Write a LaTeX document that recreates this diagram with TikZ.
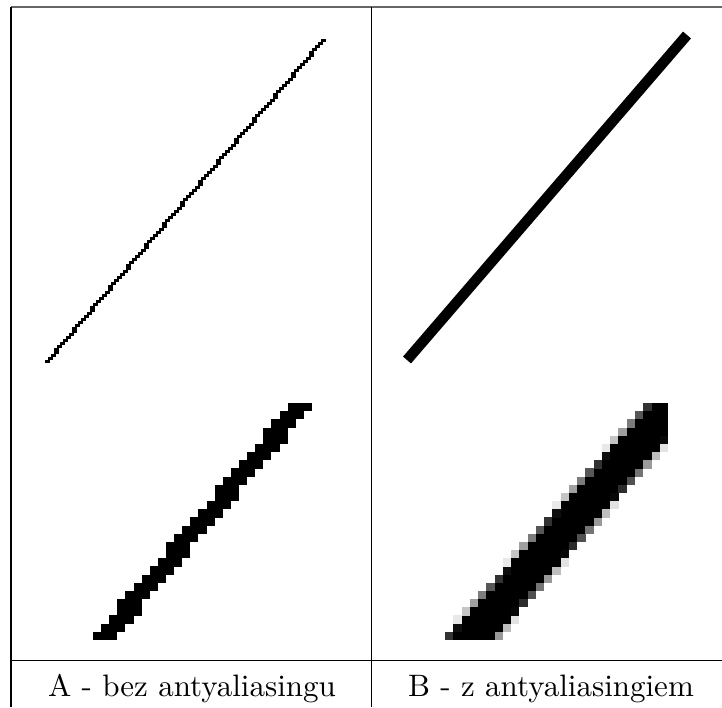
\documentclass[tikz,border=0pt]{standalone}
\usepackage{graphicx}
\begin{document}
\begin{tikzpicture}[x=1pt,y=-1pt,
  rule/.style={line width=1.1pt,black},
  toprule/.style={line width=1.1pt,black!60},
  caption/.style={anchor=base,inner sep=0pt,font=\fontsize{10}{12}\selectfont}]
\useasboundingbox (0,0) rectangle (722,707);
% table rules
\coordinate (tl) at (11,7);
\coordinate (tr) at (722,7);
\coordinate (ml) at (11,660.5);
\coordinate (mr) at (722,660.5);
\coordinate (bl) at (11,707);
\coordinate (ct) at (371.5,7);
\coordinate (cb) at (371.5,707);
\draw[toprule] (tl) -- (tr);
\draw[rule] (tl) -- (bl);
\draw[rule] (ct) -- (cb);
\draw[rule] (ml) -- (mr);
% captions
\node[caption] (capA) at (192,696) {\scalebox{3.1}{A - bez antyaliasingu}};
\node[caption] (capB) at (551,696) {\scalebox{3.1}{B - z antyaliasingiem}};
% top-left: thin aliased line
\foreach \r in {0,...,107}{
  \pgfmathsetmacro\cx{44.5+3.0*round(\r*0.858)}
  \fill[black] (\cx,363-\r*3.0-3.2) rectangle ++(5.6,3.4);
}
% top-right: thick antialiased line
\coordinate (ta) at (407,360);
\coordinate (tb) at (687,35);
\draw[line width=10.5pt,line cap=butt,black] (ta) -- (tb);
% bottom-left: magnified aliased pixels
\begin{scope}
\clip (93,403) rectangle (312,640);
\foreach \r in {0,...,28}{
  \pgfmathsetmacro\cc{round(1+\r*24/28)}
  \fill[black] (93+\cc*8.11-8.11,640-\r*8.17-8.25) rectangle ++(3*8.11,8.33);
}
\end{scope}
% bottom-right: magnified antialiased pixels
\begin{scope}
\clip (445,403) rectangle (668,640);
\foreach \r in {0,...,28}{
  \foreach \i in {0,...,26}{
    \pgfmathsetmacro\cv{max(0,min(1,3.0+0.6-abs(\i+0.5-3.3-\r*0.857)))}
    \ifdim\cv pt>0.01pt
      \pgfmathsetmacro\pc{100*\cv}
      \fill[black!\pc] (445+\i*8.26,640-\r*8.17-8.25) rectangle ++(8.34,8.33);
    \fi
  }
}
\end{scope}
\end{tikzpicture}
\end{document}
